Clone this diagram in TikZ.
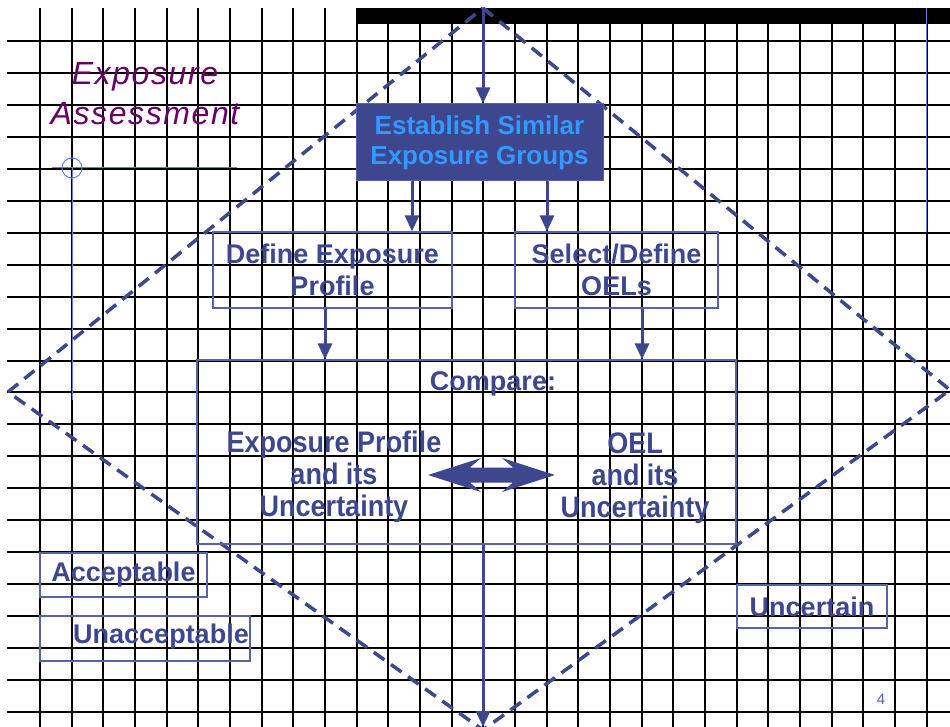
\documentclass[tikz,border=0pt]{standalone}
\usepackage{fontspec}
\usepackage{graphicx}
\setmainfont{Liberation Sans}
\usetikzlibrary{arrows.meta}
\definecolor{dkblue}{RGB}{62,70,142}
\definecolor{ltblue}{RGB}{51,153,255}
\definecolor{boxline}{RGB}{88,98,168}
\definecolor{selblue}{RGB}{100,125,230}
\definecolor{plum}{RGB}{102,0,102}
\newcommand{\tallstack}[1]{\scalebox{1}[1.1]{\fontsize{27}{29.5}\selectfont\begin{tabular}{@{}c@{}}#1\end{tabular}}}
\tikzset{
  gridline/.style={black, line width=2pt},
  selline/.style={selblue, line width=1pt},
  diamondline/.style={dkblue, line width=3.5pt, dash pattern=on 13pt off 8pt},
  flowarrow/.style={dkblue, line width=3pt, -{Triangle[width=14pt,length=16pt]}},
  outlinebox/.style={draw=boxline, line width=1.2pt, inner sep=0pt, text=dkblue,
     font=\bfseries\fontsize{27}{32}\selectfont, align=center},
  lbl/.style={text=dkblue, inner sep=0pt, font=\bfseries\fontsize{27}{32.5}\selectfont, align=center},
  filledbox/.style={fill=dkblue, draw=boxline, line width=1pt, inner sep=0pt, text=ltblue,
     font=\bfseries\fontsize{26}{30}\selectfont, align=center}
}
\begin{document}
\begin{tikzpicture}[x=1pt,y=-1pt]
\useasboundingbox (0,0) rectangle (950,727);
\fill[white] (0,0) rectangle (950,727);
% grid
\foreach \i in {0,...,28} \draw[gridline] ({40+31.67*\i},8) -- ({40+31.67*\i},727);
\foreach \j in {0,...,21} \draw[gridline] (7,{40.7+31.98*\j}) -- (950,{40.7+31.98*\j});
% top bar
\fill[black] (356,8) rectangle (950,24);
% selection artifacts
\draw[selline] (926.7,8) -- (926.7,232);
\draw[selline] (72,168) -- (72,400);
\draw[selline] (52,168) -- (237,168);
\draw[selline] (72,168) circle (10pt);
% title
\node[text=plum, inner sep=0pt, align=center, font=\itshape\fontsize{32}{40}\selectfont\addfontfeatures{LetterSpace=5}] (title) at (145,94) {Exposure\\Assessment};
% diamond
\coordinate (dT) at (483,8);
\coordinate (dR) at (950,390);
\coordinate (dB) at (483,730);
\coordinate (dL) at (8,392);
\draw[diamondline] (dT) -- (dR) -- (dB) -- (dL) -- cycle;
% boxes
\node[filledbox, minimum width=247pt, minimum height=77pt] (est) at (479.5,142.5) {Establish Similar\\Exposure Groups};
\node[outlinebox, minimum width=239pt, minimum height=76pt] (def) at (332.5,270) {Define Exposure\\Profile};
\node[outlinebox, minimum width=203pt, minimum height=76pt] (sel) at (616.5,270) {Select/Define\\OELs};
\node[outlinebox, minimum width=539pt, minimum height=184pt] (cmp) at (466.5,452) {};
\node[lbl] (cmpt) at (493,384) {Compare:};
\node[lbl] (ep) at (334,478) {\tallstack{Exposure Profile\\and its\\Uncertainty}};
\node[lbl] (oel) at (635,479) {\tallstack{OEL\\and its\\Uncertainty}};
\node[outlinebox, minimum width=167pt, minimum height=44pt] (acc) at (123.5,575) {Acceptable};
\node[outlinebox, minimum width=210pt, minimum height=45pt] (unacc) at (145,638.5) {};
\node[lbl] (unacct) at (161,637) {Unacceptable};
\node[outlinebox, minimum width=150pt, minimum height=43pt] (unc) at (812,606.5) {Uncertain};
\node[text=boxline, inner sep=0pt, font=\fontsize{15}{16}\selectfont] (pg) at (881,699) {4};
% double block arrow
\fill[dkblue] (428,475) -- (481,458) -- (470,467.5) -- (513,467.5) -- (502,458) -- (555,475)
   -- (502,492) -- (513,482.5) -- (470,482.5) -- (481,492) -- cycle;
% connectors
\coordinate (bot) at (483,727);
\draw[flowarrow] (dT) -- (est.north -| dT);
\draw[flowarrow] (est.south -| 412,0) -- (def.north -| 412,0);
\draw[flowarrow] (est.south -| 547,0) -- (sel.north -| 547,0);
\draw[flowarrow] (def.south -| 325,0) -- (cmp.north -| 325,0);
\draw[flowarrow] (sel.south -| 642,0) -- (cmp.north -| 642,0);
\draw[flowarrow] (cmp.south -| bot) -- (bot);
\end{tikzpicture}
\end{document}
